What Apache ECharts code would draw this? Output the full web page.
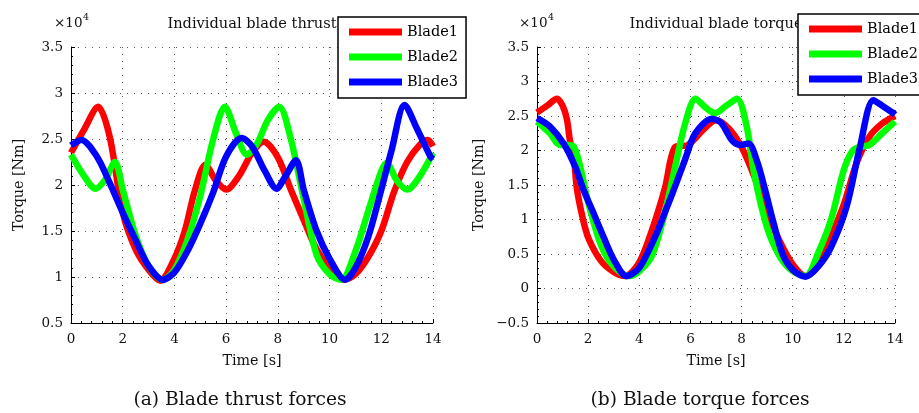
<!DOCTYPE html>
<html>
<head>
<meta charset="utf-8">
<script src="https://cdn.jsdelivr.net/npm/echarts@6/dist/echarts.min.js"></script>
<style>
  html, body { margin: 0; padding: 0; background: #fff; }
  #chart { width: 919px; height: 413px; }
</style>
</head>
<body>
<div id="chart"></div>
<script>
// blade names
const bladeNames = ["Blade1", "Blade2", "Blade3"];
const bladeColors = ["#ff0000", "#00ff00", "#0000ff"];

// (a) thrust, values in x10^4
const thrustB1T = [0, 0.5, 1.05, 1.5, 2, 2.5, 3, 3.45, 4, 4.4, 4.8, 5.2, 5.6, 6, 6.5, 7, 7.45, 8, 8.5, 9, 9.5, 10, 10.55, 11, 11.5, 12, 12.5, 13, 13.5, 13.8, 14];
const thrustB1V = [2.35, 2.6, 2.85, 2.52, 1.7, 1.3, 1.08, 0.96, 1.2, 1.5, 1.95, 2.22, 2.05, 1.95, 2.1, 2.35, 2.47, 2.3, 1.95, 1.62, 1.3, 1.1, 0.97, 1.03, 1.22, 1.5, 1.93, 2.25, 2.44, 2.49, 2.42];
const thrustB2T = [0, 0.5, 0.95, 1.3, 1.7, 2, 2.5, 3, 3.55, 4, 4.5, 5, 5.5, 5.95, 6.4, 6.8, 7.2, 7.6, 8.05, 8.5, 9, 9.5, 10, 10.45, 11, 11.5, 12, 12.2, 12.6, 13, 13.5, 14];
const thrustB2V = [2.33, 2.1, 1.96, 2.05, 2.25, 1.95, 1.45, 1.12, 0.97, 1.08, 1.4, 1.88, 2.5, 2.85, 2.55, 2.33, 2.45, 2.7, 2.85, 2.5, 1.85, 1.24, 1.03, 0.97, 1.28, 1.72, 2.15, 2.24, 2.05, 1.95, 2.1, 2.35];
const thrustB3T = [0, 0.4, 1, 1.5, 2, 2.5, 3, 3.55, 4, 4.5, 5, 5.5, 6, 6.6, 7, 7.5, 7.95, 8.3, 8.7, 9, 9.5, 10, 10.6, 11, 11.5, 12, 12.4, 12.9, 13.4, 13.9, 14];
const thrustB3V = [2.43, 2.49, 2.31, 2.02, 1.7, 1.4, 1.12, 0.97, 1.05, 1.28, 1.58, 1.92, 2.31, 2.51, 2.42, 2.15, 1.96, 2.1, 2.27, 1.95, 1.5, 1.2, 0.97, 1.1, 1.44, 1.95, 2.38, 2.87, 2.6, 2.31, 2.28];

// (b) torque, values in x10^4
const torqueB1T = [0, 0.4, 0.78, 1, 1.17, 1.3, 1.42, 1.56, 1.8, 2.02, 2.5, 3, 3.45, 4, 4.5, 5, 5.4, 5.9, 6.5, 7, 7.5, 8, 8.5, 9, 9.5, 10, 10.5, 11, 11.5, 12, 12.5, 13, 13.5, 14];
const torqueB1V = [2.55, 2.65, 2.75, 2.65, 2.45, 2.12, 1.98, 1.45, 1.0, 0.72, 0.4, 0.24, 0.18, 0.38, 0.85, 1.45, 2.05, 2.08, 2.3, 2.44, 2.32, 2.05, 1.62, 1.1, 0.68, 0.35, 0.18, 0.33, 0.75, 1.22, 1.82, 2.2, 2.39, 2.5];
const torqueB2T = [0, 0.5, 0.9, 1.2, 1.45, 1.7, 2, 2.5, 3, 3.6, 4, 4.5, 5, 5.4, 5.8, 6.2, 6.6, 6.97, 7.4, 7.82, 8.2, 8.5, 9, 9.5, 10, 10.5, 11, 11.5, 12, 12.35, 12.7, 13, 13.5, 14];
const torqueB2V = [2.42, 2.25, 2.08, 2.08, 2.05, 1.75, 1.25, 0.63, 0.32, 0.18, 0.25, 0.48, 1.1, 1.76, 2.4, 2.75, 2.62, 2.54, 2.65, 2.75, 2.35, 1.65, 0.88, 0.46, 0.25, 0.18, 0.52, 1.0, 1.72, 2.0, 2.06, 2.08, 2.25, 2.42];
const torqueB3T = [0, 0.5, 1.04, 1.5, 1.82, 2.2, 2.6, 3, 3.5, 4, 4.62, 5, 5.4, 5.8, 6.19, 6.84, 7.2, 7.62, 7.95, 8.27, 8.6, 8.92, 9.25, 9.6, 10, 10.5, 11, 11.5, 12.11, 12.63, 13.15, 13.5, 13.94, 14];
const torqueB3V = [2.47, 2.35, 2.1, 1.76, 1.43, 1.1, 0.75, 0.42, 0.18, 0.3, 0.75, 1.1, 1.48, 1.88, 2.25, 2.46, 2.4, 2.15, 2.08, 2.1, 1.85, 1.43, 0.95, 0.5, 0.27, 0.17, 0.32, 0.6, 1.19, 2.05, 2.73, 2.65, 2.54, 2.52];

const FONT = "DejaVu Serif";

function pairs(t, v) {
  return t.map((x, i) => [x, v[i]]);
}

const chart = echarts.init(document.getElementById("chart"));

function xAxis(idx) {
  return {
    type: "value", gridIndex: idx, min: 0, max: 14, interval: 2,
    name: "Time [s]", nameLocation: "middle", nameGap: 31,
    nameTextStyle: { fontFamily: FONT, fontSize: 14.3, color: "#111" },
    axisLine: { show: true, onZero: false, lineStyle: { color: "#000", width: 1 } },
    axisTick: { show: true, inside: true, length: 4, lineStyle: { color: "#000" } },
    minorTick: { show: true, splitNumber: 5, length: 2, lineStyle: { color: "#000" } },
    splitLine: { show: true, lineStyle: { color: "#555", type: [1, 6], width: 1 } },
    axisLabel: { color: "#111", fontFamily: FONT, fontSize: 13.5, margin: 9 }
  };
}

function yAxis(idx, min, gap) {
  return {
    type: "value", gridIndex: idx, min: min, max: 3.5, interval: 0.5,
    name: "Torque [Nm]", nameLocation: "middle", nameGap: gap,
    nameTextStyle: { fontFamily: FONT, fontSize: 14.3, color: "#111" },
    axisLine: { show: true, onZero: false, lineStyle: { color: "#000", width: 1 } },
    axisTick: { show: true, inside: true, length: 4, lineStyle: { color: "#000" } },
    minorTick: { show: true, splitNumber: 5, length: 2, lineStyle: { color: "#000" } },
    splitLine: { show: true, lineStyle: { color: "#555", type: [1, 6], width: 1 } },
    axisLabel: {
      color: "#111", fontFamily: FONT, fontSize: 13.5, margin: 8,
      formatter: (v) => String(v).replace("-", "\u2212")
    }
  };
}

function legend(left, top) {
  return {
    data: bladeNames, orient: "vertical", left: left, top: top,
    padding: [6, 8, 7, 11], itemWidth: 53, itemHeight: 7, itemGap: 7,
    icon: "rect", backgroundColor: "#fff", borderColor: "#000", borderWidth: 1.5,
    selectedMode: false, z: 10,
    textStyle: { fontFamily: FONT, fontSize: 14.5, color: "#000", lineHeight: 18 }
  };
}

const thrustData = [pairs(thrustB1T, thrustB1V), pairs(thrustB2T, thrustB2V), pairs(thrustB3T, thrustB3V)];
const torqueData = [pairs(torqueB1T, torqueB1V), pairs(torqueB2T, torqueB2V), pairs(torqueB3T, torqueB3V)];

const series = [];
[thrustData, torqueData].forEach((set, g) => {
  set.forEach((d, i) => {
    series.push({
      name: bladeNames[i], type: "line", xAxisIndex: g, yAxisIndex: g,
      data: d, showSymbol: false, smooth: 0.3, silent: true,
      lineStyle: { width: 6.5, color: bladeColors[i] },
      itemStyle: { color: bladeColors[i] }
    });
  });
});

function txt(x, y, s, size, align) {
  return {
    type: "text", x: x, y: y, z: 1,
    style: { text: s, fontFamily: FONT, fontSize: size, fill: "#111", align: align || "center", verticalAlign: "middle" }
  };
}

const option = {
  animation: false,
  backgroundColor: "#fff",
  grid: [
    { left: 71, right: 486, top: 47, bottom: 90 },
    { left: 537, right: 24, top: 47, bottom: 90 }
  ],
  xAxis: [xAxis(0), xAxis(1)],
  yAxis: [yAxis(0, 0.5, 45), yAxis(1, -0.5, 51)],
  legend: [legend(338, 17), legend(798, 14)],
  graphic: [
    txt(252, 24, "Individual blade thrust", 14.6),
    txt(716, 24, "Individual blade torque", 14.6),
    txt(54, 23, "\u00d710", 13.5, "left"),
    txt(83, 18, "4", 9.5, "left"),
    txt(519, 23, "\u00d710", 13.5, "left"),
    txt(548, 18, "4", 9.5, "left"),
    txt(240, 400, "(a) Blade thrust forces", 18.7),
    txt(700, 400, "(b) Blade torque forces", 18.7)
  ],
  series: series
};

chart.setOption(option);
</script>
</body>
</html>
